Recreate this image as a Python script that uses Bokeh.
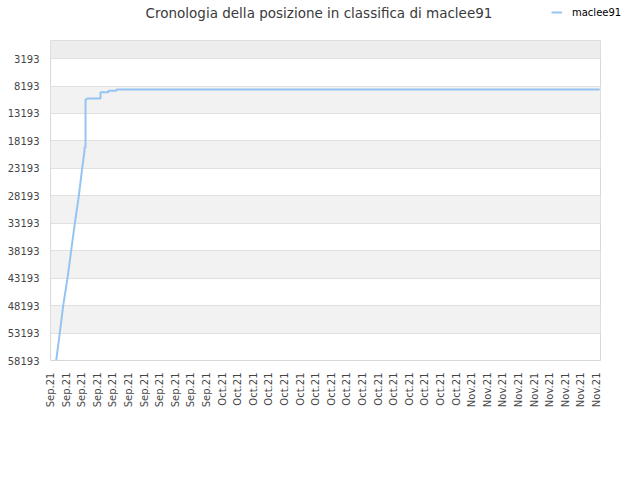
from bokeh.plotting import figure
from bokeh.layouts import column
from bokeh.models import (Range1d, FixedTicker, BoxAnnotation, Label, Legend, LegendItem)
from bokeh.embed import file_html
from bokeh.resources import INLINE
from math import pi

# ---- data (days since first tick, rank) ----
days = [0.73, 1.19, 1.63, 2.18, 2.65, 3.12, 3.63, 4.06, 4.36, 4.36, 4.49, 4.49,
        4.74, 6.41, 6.41, 7.44, 7.44, 8.46, 8.46, 70.4]
ranks = [58193, 53193, 48193, 43193, 38193, 33193, 28193, 23193, 19948, 19400, 19400, 10660,
         10478, 10478, 9330, 9330, 9075, 9075, 8839, 8839]

y_ticks = [3193, 8193, 13193, 18193, 23193, 28193, 33193, 38193, 43193, 48193, 53193, 58193]
x_tick_days = list(range(0, 71, 2))
x_tick_labels = ["Sep.21", "Sep.21", "Sep.21", "Sep.21", "Sep.21", "Sep.21", "Sep.21", "Sep.21",
                 "Sep.21", "Sep.21", "Sep.21",
                 "Oct.21", "Oct.21", "Oct.21", "Oct.21", "Oct.21", "Oct.21", "Oct.21", "Oct.21",
                 "Oct.21", "Oct.21", "Oct.21", "Oct.21", "Oct.21", "Oct.21", "Oct.21", "Oct.21",
                 "Nov.21", "Nov.21", "Nov.21", "Nov.21", "Nov.21", "Nov.21", "Nov.21", "Nov.21",
                 "Nov.21"]
series_name = "maclee91"
title_text = "Cronologia della posizione in classifica di maclee91"

FONT = "DejaVu Sans"
LINE_COLOR = "#96c4f2"

# ---- header (title + legend) ----
hdr = figure(width=640, height=36, output_backend="svg", toolbar_location=None,
             x_range=Range1d(0, 640), y_range=Range1d(0, 36),
             x_axis_location=None, y_axis_location=None,
             min_border=0, min_border_left=0, min_border_right=0,
             min_border_top=0, min_border_bottom=0)
hdr.frame_align = False
hdr.grid.visible = False
hdr.outline_line_color = None
hdr.background_fill_color = "white"
hdr.border_fill_color = "white"
hdr.add_layout(Label(x=318.5, y=24, text=title_text,
                     text_font=FONT, text_font_size="13.5px", text_color="#3a3a3a",
                     text_align="center", text_baseline="middle"))
# series drawn in the header only to feed the legend swatch (falls outside its ranges)
legend_src = hdr.line(days, ranks, line_color=LINE_COLOR, line_width=2)
leg = Legend(items=[LegendItem(label=series_name, renderers=[legend_src])], location="top_right",
             glyph_width=11, glyph_height=14, label_height=14, label_width=63,
             label_standoff=10, padding=0, margin=5, spacing=0, border_line_color=None,
             background_fill_alpha=0, label_text_font=FONT, label_text_font_size="10px",
             label_text_color="#000000")
hdr.add_layout(leg)

# ---- main chart ----
p = figure(width=640, height=444, output_backend="svg", toolbar_location=None,
           x_range=Range1d(0, 70.5), y_range=Range1d(58193, -100),
           min_border_left=50, min_border_right=40, min_border_top=4, min_border_bottom=120)
p.frame_align = False
p.background_fill_color = "white"
p.border_fill_color = "white"
p.outline_line_color = "#d8d8d8"
p.outline_line_width = 1

# bands
p.add_layout(BoxAnnotation(bottom=y_ticks[0], fill_color="#ededed", fill_alpha=1,
                           line_color=None, level="image"))
for i in range(1, len(y_ticks) - 1, 2):
    p.add_layout(BoxAnnotation(top=y_ticks[i], bottom=y_ticks[i + 1], fill_color="#f2f2f2",
                               fill_alpha=1, line_color=None, level="image"))

r = p.line(days, ranks, line_color=LINE_COLOR, line_width=2)

p.xgrid.grid_line_color = None
p.ygrid.grid_line_color = "#e0e0e0"
p.ygrid.ticker = FixedTicker(ticks=y_ticks)
p.yaxis.ticker = FixedTicker(ticks=y_ticks)
p.xaxis.ticker = FixedTicker(ticks=x_tick_days)
p.xaxis.major_label_overrides = {d: l for d, l in zip(x_tick_days, x_tick_labels)}
for ax in (p.xaxis[0], p.yaxis[0]):
    ax.axis_line_color = None
    ax.major_tick_line_color = None
    ax.minor_tick_line_color = None
    ax.major_tick_out = 0
    ax.major_tick_in = 0
    ax.major_label_text_font = FONT
    ax.major_label_text_font_size = "10px"
    ax.major_label_text_color = "#444444"
p.yaxis.major_label_standoff = 11
p.xaxis.major_label_standoff = 12
p.xaxis.major_label_orientation = pi / 2

layout = column(hdr, p, spacing=0)
open("out.html", "w").write(file_html(layout, INLINE))
